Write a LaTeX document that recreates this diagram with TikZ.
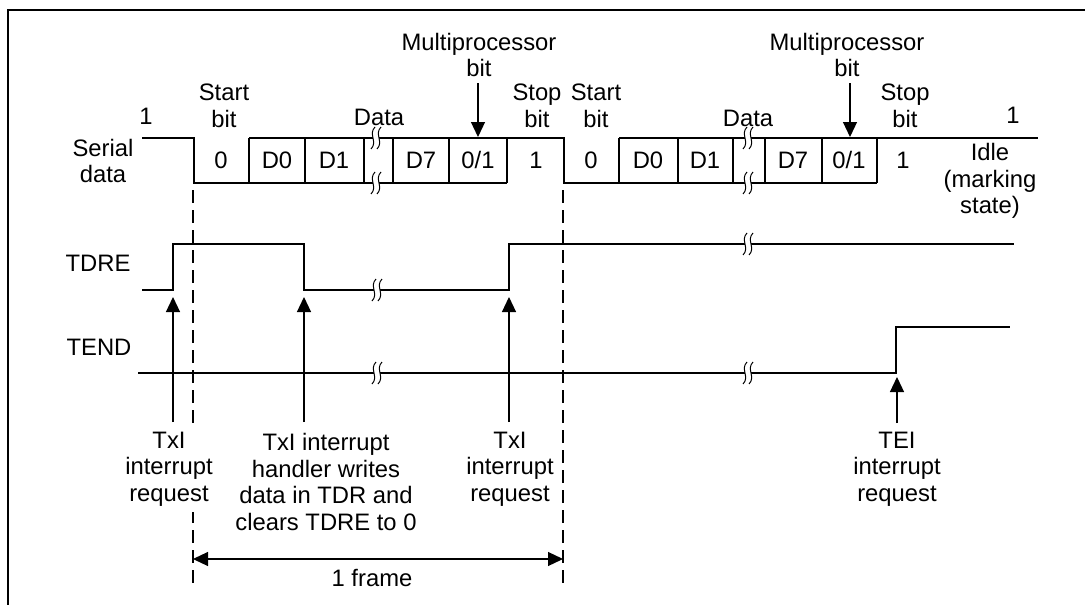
\documentclass[tikz,border=0pt]{standalone}
\usepackage{fontspec}
\setmainfont{Liberation Sans}
\usetikzlibrary{arrows.meta}
\begin{document}
\begin{tikzpicture}[x=1pt,y=-1pt,
  sig/.style={line width=1.6pt},
  frm/.style={line width=1.8pt},
  dsh/.style={line width=1.2pt, dash pattern=on 13pt off 7pt},
  arr/.style={line width=1.2pt, -{Triangle[length=15pt,width=14pt]}},
  darr/.style={line width=1.2pt, {Triangle[length=15pt,width=14pt]}-{Triangle[length=15pt,width=14pt]}},
  lbl/.style={font=\fontsize{23.8}{26.5}\selectfont, align=center, inner sep=0pt},
  brkmark/.pic={
    \fill[white] (-1,-11) .. controls (-8,-4) and (2,4) .. (-5,11) -- (1,11) .. controls (8,4) and (-2,-4) .. (5,-11) -- cycle;
    \draw[line width=1pt] (-1,-11) .. controls (-8,-4) and (2,4) .. (-5,11);
    \draw[line width=1pt] (5,-11) .. controls (-2,-4) and (8,4) .. (1,11);
  }]
\useasboundingbox (0,0) rectangle (1085,605);
% frame
\draw[frm] (8,605) -- (8,10) -- (1085,10);

% ---------- serial data ----------
\draw[sig] (142,138) -- (194,138) -- (194,183) -- (507,183);
\draw[sig] (249,138) -- (564,138) -- (564,183) -- (877,183);
\draw[sig] (619,138) -- (1038,138);
\foreach \x in {249,305,364,393,449,507,619,678,733,765,822,877}
  \draw[sig] (\x,138) -- (\x,183);

% ---------- TDRE ----------
\draw[sig] (142,290) -- (173,290) -- (173,244) -- (304,244) -- (304,290) -- (509,290) -- (509,244) -- (1014,244);
% ---------- TEND ----------
\draw[sig] (138,373) -- (896,373) -- (896,327) -- (1010,327);

% break marks
\foreach \p in {(376,138),(376,183),(748,138),(748,183),(377,290),(377,373),(748,244),(748,373)}
  \pic at \p {brkmark};

% dashed frame boundaries
\coordinate (fa) at (193,190);
\coordinate (fb) at (193,590);
\coordinate (fc) at (563,190);
\coordinate (fd) at (563,590);
\draw[dsh] (fa) -- (fb);
\draw[dsh] (fc) -- (fd);

% 1 frame arrow
\coordinate (fl) at (193,559);
\coordinate (fr) at (563,559);
\draw[darr] (fl) -- (fr);
\node[lbl] (oneframe) at (372,578) {1 frame};

% labels left
\node[lbl] (serial) at (103,161) {Serial\\data};
\node[lbl] (tdre) at (98,263) {TDRE};
\node[lbl] (tend) at (99,347) {TEND};

% first frame texts
\node[lbl] (one1) at (146,116) {1};
\node[lbl] (start1) at (224,106) {Start\\bit};
\node[lbl] (b0a) at (221,160) {0};
\node[lbl] (d0a) at (277,160) {D0};
\node[lbl] (d1a) at (334,160) {D1};
\node[lbl] (d7a) at (421,160) {D7};
\node[lbl] (mpa) at (478,160) {0/1};
\node[lbl] (stopva) at (536,160) {1};
\node[lbl] (data1) at (379,117) {Data};
\node[lbl] (multi1) at (479,55) {Multiprocessor\\bit};
\node[lbl] (stop1) at (537,106) {Stop\\bit};

% second frame texts
\node[lbl] (start2) at (596,106) {Start\\bit};
\node[lbl] (b0b) at (591,160) {0};
\node[lbl] (d0b) at (648,160) {D0};
\node[lbl] (d1b) at (705,160) {D1};
\node[lbl] (d7b) at (793,160) {D7};
\node[lbl] (mpb) at (849,160) {0/1};
\node[lbl] (stopvb) at (903,160) {1};
\node[lbl] (data2) at (748,118) {Data};
\node[lbl] (multi2) at (847,55) {Multiprocessor\\bit};
\node[lbl] (stop2) at (905,106) {Stop\\bit};
\node[lbl] (one2) at (1013,115) {1};
\node[lbl] (idle) at (990,181) {Idle\\(marking\\state)};

% multiprocessor arrows
\coordinate (m1s) at (478,83);
\coordinate (m1t) at (478,137);
\coordinate (m2s) at (850,83);
\coordinate (m2t) at (850,137);
\draw[arr] (m1s) -- (m1t);
\draw[arr] (m2s) -- (m2t);

% interrupt arrows
\coordinate (i1s) at (173,422);
\coordinate (i1t) at (173,297);
\coordinate (i2s) at (304,422);
\coordinate (i2t) at (304,297);
\coordinate (i3s) at (509,422);
\coordinate (i3t) at (509,297);
\coordinate (i4s) at (897,423);
\coordinate (i4t) at (897,377);
\draw[arr] (i1s) -- (i1t);
\draw[arr] (i2s) -- (i2t);
\draw[arr] (i3s) -- (i3t);
\draw[arr] (i4s) -- (i4t);

% bottom texts
\node[lbl, fill=white, inner ysep=6pt] (txi1) at (169,469) {TxI\\interrupt\\request};
\node[lbl] (txh) at (326,482) {TxI interrupt\\handler writes\\data in TDR and\\clears TDRE to 0};
\node[lbl] (txi2) at (510,469) {TxI\\interrupt\\request};
\node[lbl] (tei) at (897,469) {TEI\\interrupt\\request};
\end{tikzpicture}
\end{document}
